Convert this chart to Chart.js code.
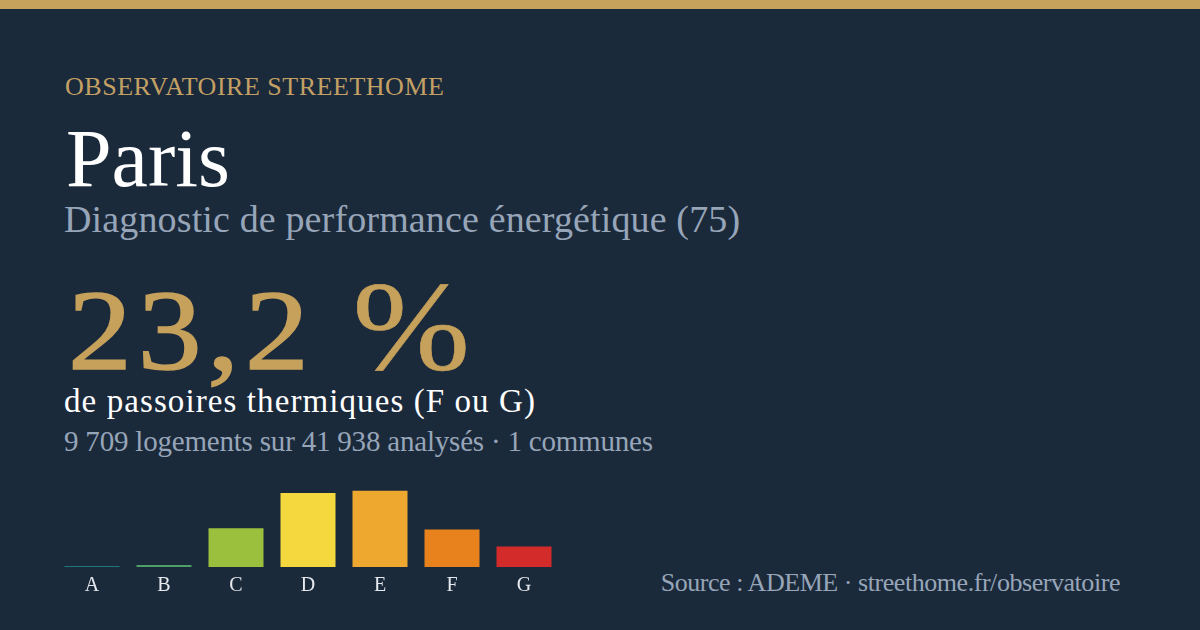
<!DOCTYPE html>
<html lang="fr">
<head>
<meta charset="utf-8">
<title>Observatoire Streethome - Paris</title>
<script src="https://cdn.jsdelivr.net/npm/chart.js@4.4.1/dist/chart.umd.min.js"></script>
<style>
  html, body { margin: 0; padding: 0; }
  body {
    width: 1200px; height: 630px; overflow: hidden; position: relative;
    background: #1b2a3b;
    font-family: "Liberation Serif", "DejaVu Serif", serif;
  }
  .topbar { position: absolute; left: 0; top: 0; width: 1200px; height: 9px; background: #c6a25c; }
  .txt { position: absolute; line-height: 1; white-space: nowrap; display: inline-block; }
  #eyebrow { left: 65px; top: 74px; font-size: 26px; color: #c3a064; }
  #city { left: 66px; top: 118px; font-size: 82px; color: #ffffff; }
  #subtitle { left: 64px; top: 200px; font-size: 38px; color: #97a5b8; }
  #share {
    left: 68px; top: 264px; font-size: 114px; color: #c6a15b;
    -webkit-text-stroke: 1.6px #c6a15b;
    transform: scaleX(1.12); transform-origin: left top;
  }
  #share .pct { font-size: 126px; -webkit-text-stroke: 0.6px #c6a15b; }
  #label { left: 64px; top: 385px; font-size: 33px; color: #ffffff; }
  #stats { left: 64px; top: 427px; font-size: 29px; color: #97a5b8; }
  #source { right: 80px; top: 570px; font-size: 26px; color: #97a5b8; }
  #chartBox { position: absolute; left: 56px; top: 467px; width: 504px; height: 138px; }
</style>
</head>
<body>
<div class="topbar"></div>
<div class="txt" id="eyebrow" data-w="379">OBSERVATOIRE STREETHOME</div>
<div class="txt" id="city">Paris</div>
<div class="txt" id="subtitle" data-w="676">Diagnostic de performance énergétique (75)</div>
<div class="txt" id="share" data-w="402" data-sx="1.12">23,2 <span class="pct">%</span></div>
<div class="txt" id="label" data-w="471">de passoires thermiques (F ou G)</div>
<div class="txt" id="stats" data-w="589">9 709 logements sur 41 938 analysés · 1 communes</div>
<div class="txt" id="source" data-w="460">Source : ADEME · streethome.fr/observatoire</div>
<div id="chartBox"><canvas id="dpeChart"></canvas></div>

<script>
// DPE classes and share of housing per class (%)
const grades = ["A", "B", "C", "D", "E", "F", "G"];
const shares = [0.4, 0.8, 15.5, 29.6, 30.5, 15.0, 8.2];
const gradeColors = ["#1d7a78", "#4f9f68", "#9bc03e", "#f5d73e", "#eea82f", "#e8821d", "#d32b2a"];

// spread the serif text a little so it takes the same width as the original
function fitText() {
  document.querySelectorAll(".txt[data-w]").forEach((el) => {
    const target = Number(el.dataset.w);
    const sx = Number(el.dataset.sx || 1);
    const n = el.textContent.length;
    const w = el.getBoundingClientRect().width;
    el.style.letterSpacing = ((target - w) / (Math.max(n - 1, 1) * sx)).toFixed(2) + "px";
  });
}
fitText();

const dpeChart = new Chart(document.getElementById("dpeChart"), {
  type: "bar",
  data: {
    labels: grades,
    datasets: [
      {
        data: shares,
        backgroundColor: gradeColors,
        borderWidth: 0,
        barPercentage: 0.764,
        categoryPercentage: 1.0,
      },
    ],
  },
  options: {
    responsive: true,
    maintainAspectRatio: false,
    animation: false,
    events: [],
    layout: { padding: 0 },
    plugins: {
      legend: { display: false },
      tooltip: { enabled: false },
    },
    scales: {
      x: {
        grid: { display: false, drawTicks: false },
        border: { display: false },
        ticks: {
          color: "#e6e9ee",
          padding: 7,
          font: { family: "Liberation Serif", size: 20 },
        },
      },
      y: {
        display: false,
        min: 0,
        max: 40,
      },
    },
  },
});
</script>
</body>
</html>
